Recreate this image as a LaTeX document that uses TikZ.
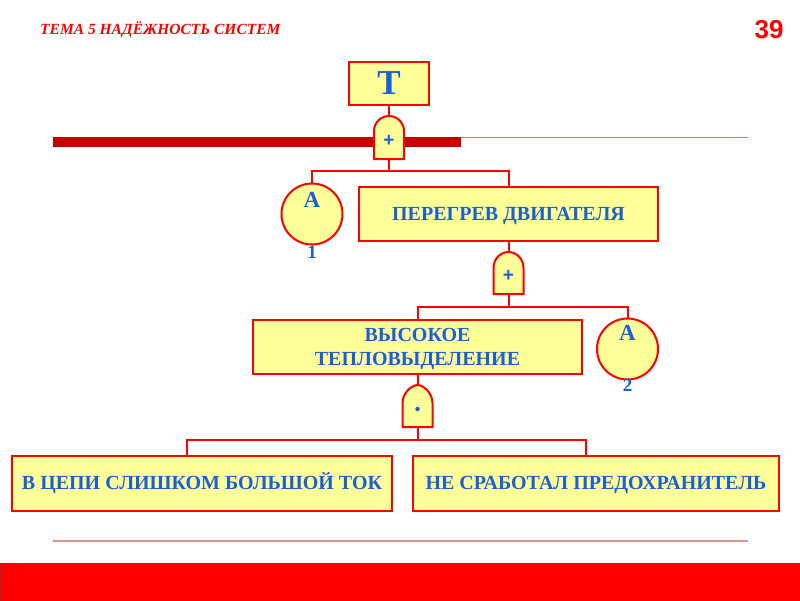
\documentclass[tikz,border=0pt]{standalone}
\usepackage{fontspec}
\setmainfont{Liberation Serif}
\newfontfamily\numfont{Liberation Sans}
\definecolor{boxfill}{RGB}{255,255,153}
\definecolor{txtblue}{RGB}{25,95,215}
\definecolor{barred}{RGB}{200,0,0}
\definecolor{thinred}{RGB}{220,110,110}
\definecolor{rulered}{RGB}{215,150,150}
\definecolor{bardark}{RGB}{160,40,40}
\newcommand{\gate}[6]{%
  \filldraw[gatestyle] (#2-15,#5) -- (#2-15,#4) .. controls (#2-15,#4-0.55*#4+0.55*#3) and (#2-#6,#3) .. (#2,#3) .. controls (#2+#6,#3) and (#2+15,#4-0.55*#4+0.55*#3) .. (#2+15,#4) -- (#2+15,#5) -- cycle;
  \node[inner sep=0pt,minimum width=30pt,minimum height={(#5-#3)*1pt}] (#1) at (#2,{(#3+#5)/2}) {};
}
\begin{document}
\begin{tikzpicture}[x=1pt,y=-1pt,
  box/.style={draw=red,line width=2pt,fill=boxfill,inner sep=0pt,text=txtblue,align=center,
    font=\bfseries\fontsize{20}{24}\selectfont},
  one/.style={text height=13pt,text depth=0pt},
  two/.style={text height=37pt,text depth=0pt},
  evt/.style={circle,draw=red,line width=2pt,fill=boxfill,minimum size=61pt,inner sep=0pt},
  gatestyle/.style={draw=red,line width=2pt,fill=boxfill},
  conn/.style={draw=red,line width=2pt},
  sym/.style={text=txtblue,font=\numfont\bfseries\fontsize{19}{19}\selectfont,inner sep=0pt},
  lblA/.style={text=txtblue,font=\bfseries\fontsize{23}{23}\selectfont,inner sep=0pt},
  lblN/.style={text=txtblue,font=\bfseries\fontsize{19}{19}\selectfont,inner sep=0pt}]
\useasboundingbox (0,0) rectangle (800,600);
% header
\node[anchor=west,text=red,inner sep=0pt,font=\bfseries\itshape\fontsize{15.5}{15.5}\selectfont] (title) at (40,29.5) {ТЕМА 5 НАДЁЖНОСТЬ СИСТЕМ};
\node[text=red,inner sep=0pt,font=\numfont\bfseries\fontsize{26}{26}\selectfont] (num) at (769,30) {39};
% bars and rules
\fill[barred] (53,137) rectangle (461,147);
\draw[thinred,line width=1.2pt] (461,137.5) -- (748,137.5);
\draw[rulered,line width=1.5pt] (53,541) -- (748,541);
\filldraw[fill=red,draw=bardark,line width=1pt] (0,563.5) rectangle (800,601);
% nodes
\node[box,minimum width=80pt,minimum height=43pt,font=\bfseries\fontsize{35}{35}\selectfont] (T) at (389,83.5) {T};
\gate{g1}{389}{116}{131}{159}{8.3}
\node[sym] (s1) at ([yshift=-3pt]g1.center) {+};
\node[evt] (a1) at (312,214) {};
\node[lblA] (a1A) at (312,200) {A};
\node[lblN] (a1n) at (312,252) {1};
\node[box,one,minimum width=299pt,minimum height=54pt] (b1) at (508.5,214) {ПЕРЕГРЕВ ДВИГАТЕЛЯ};
\gate{g2}{508.5}{252}{268}{294}{8.3}
\node[sym] (s2) at ([yshift=-3pt]g2.center) {+};
\node[box,two,minimum width=329pt,minimum height=54pt] (b2) at (417.5,347) {ВЫСОКОЕ\\ТЕПЛОВЫДЕЛЕНИЕ};
\node[evt] (a2) at (627.5,349) {};
\node[lblA] (a2A) at (627.5,333) {A};
\node[lblN] (a2n) at (627.5,385) {2};
\gate{g3}{417.5}{385}{403}{427}{6}
\node[circle,fill=txtblue,inner sep=0pt,minimum size=4.5pt] (dot) at ([yshift=-3pt]g3.center) {};
\node[box,one,minimum width=380pt,minimum height=55pt] (b3) at (202,483) {В ЦЕПИ СЛИШКОМ БОЛЬШОЙ ТОК};
\node[box,one,minimum width=366pt,minimum height=55pt] (b4) at (596,483) {НЕ СРАБОТАЛ ПРЕДОХРАНИТЕЛЬ};
% junctions
\coordinate (j1) at (389,171);
\coordinate (j2) at (508.5,307);
\coordinate (j3) at (417.5,440);
% connectors
\draw[conn] (T.south) -- (g1.north);
\draw[conn] (g1.south) -- (j1);
\draw[conn] (j1) -| (a1.north);
\draw[conn] (j1) -| (b1.north);
\draw[conn] (b1.south) -- (g2.north);
\draw[conn] (g2.south) -- (j2);
\draw[conn] (j2) -| (b2.north);
\draw[conn] (j2) -| (a2.north);
\draw[conn] (b2.south) -- (g3.north);
\draw[conn] (g3.south) -- (j3);
\draw[conn] (j3) -| ([xshift=-15pt]b3.north);
\draw[conn] (j3) -| ([xshift=-10pt]b4.north);
\end{tikzpicture}
\end{document}
